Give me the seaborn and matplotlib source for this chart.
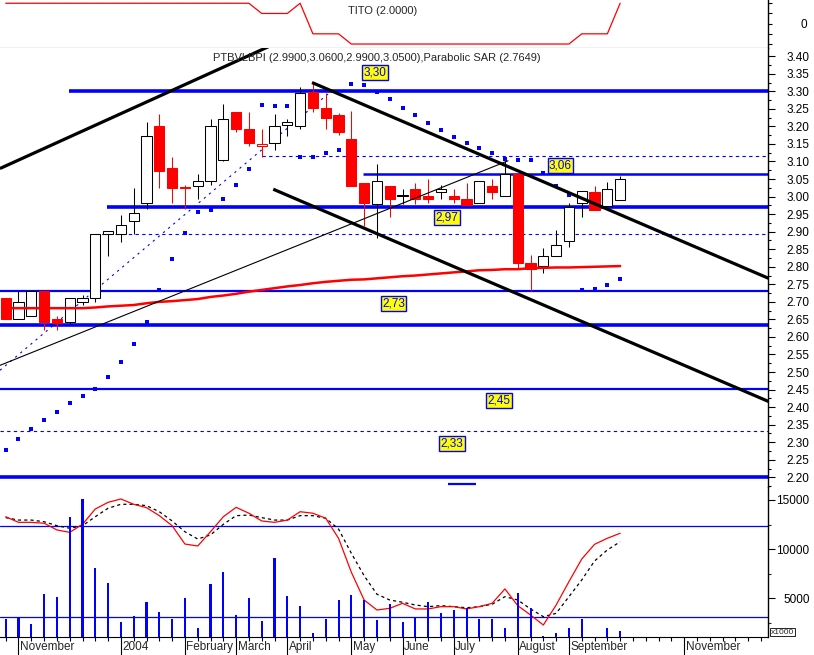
import numpy as np
import pandas as pd
import matplotlib
matplotlib.use('Agg')
import matplotlib.pyplot as plt
import matplotlib.transforms as mtransforms
import seaborn as sns

sns.set_style('white')
plt.rcParams['font.family'] = ['Liberation Sans', 'DejaVu Sans']

BLUE = '#0000ff'
RED = '#ff0000'

# ---------------- data (weekly bars, index 0 = late Oct 2003) ----------------
opens = [2.71, 2.65, 2.66, 2.73, 2.65, 2.643, 2.700, 2.712, 2.893, 2.892,
         2.930, 2.981, 3.200, 3.081, 3.026, 3.030, 3.043, 3.103, 3.240, 3.192,
         3.143, 3.152, 3.203, 3.201, 3.298, 3.252, 3.233, 3.163, 3.040, 2.980,
         3.029, 3.003, 3.023, 3.001, 3.014, 3.001, 2.992, 2.981, 3.029, 3.002,
         3.064, 2.810, 2.802, 2.831, 2.872, 2.981, 3.013, 2.973, 2.990]
highs = [2.71, 2.73, 2.73, 2.73, 2.66, 2.712, 2.72, 2.893, 2.903, 2.948,
         3.024, 3.213, 3.235, 3.112, 3.032, 3.064, 3.222, 3.263, 3.240, 3.242,
         3.192, 3.234, 3.222, 3.311, 3.325, 3.296, 3.239, 3.243, 3.040, 3.093,
         3.029, 3.023, 3.040, 3.051, 3.033, 3.023, 3.040, 3.044, 3.051, 3.102,
         3.064, 2.833, 2.853, 2.904, 2.981, 3.015, 3.030, 3.042, 3.060]
lows = [2.65, 2.65, 2.66, 2.62, 2.62, 2.636, 2.69, 2.700, 2.831, 2.871,
        2.893, 2.966, 3.025, 2.982, 2.966, 2.994, 3.032, 3.100, 3.184, 3.144,
        3.114, 3.133, 3.173, 3.192, 3.241, 3.192, 3.175, 3.030, 2.916, 2.883,
        2.943, 2.980, 2.980, 2.983, 2.992, 2.983, 2.976, 2.981, 2.992, 3.002,
        2.793, 2.731, 2.783, 2.831, 2.855, 2.943, 2.962, 2.973, 2.990]
closes = [2.65, 2.70, 2.73, 2.643, 2.641, 2.710, 2.711, 2.893, 2.903, 2.920,
          2.952, 3.174, 3.073, 3.025, 3.024, 3.043, 3.202, 3.222, 3.194, 3.153,
          3.151, 3.201, 3.213, 3.294, 3.253, 3.223, 3.184, 3.030, 2.981, 3.043,
          2.992, 3.003, 2.992, 2.993, 3.023, 2.993, 2.976, 3.044, 3.014, 3.064,
          2.810, 2.793, 2.831, 2.861, 2.969, 3.015, 2.962, 3.023, 3.050]

sar = [2.279, 2.310, 2.337, 2.364, 2.387, 2.413, 2.433, 2.453, 2.487, 2.530,
       2.581, 2.644, 2.734, 2.823, 2.897, 2.957, 2.963, 2.992, 3.032, 3.080,
       3.262, 3.259, 3.257, 3.114, 3.114, 3.125, 3.133, 3.322, 3.317, 3.298,
       3.277, 3.251, 3.232, 3.211, 3.189, 3.171, 3.154, 3.138, 3.123, 3.108,
       3.103, 3.103, 3.068, 3.030, 3.004, 2.733, 2.738, 2.747, 2.765]

ma40 = [2.682, 2.682, 2.682, 2.682, 2.682, 2.682, 2.682, 2.684, 2.687, 2.689,
        2.691, 2.696, 2.700, 2.702, 2.705, 2.708, 2.714, 2.718, 2.723, 2.729,
        2.734, 2.739, 2.744, 2.748, 2.753, 2.757, 2.760, 2.763, 2.764, 2.767,
        2.770, 2.773, 2.775, 2.778, 2.781, 2.784, 2.787, 2.790, 2.791, 2.793,
        2.793, 2.796, 2.797, 2.798, 2.798, 2.799, 2.800, 2.801, 2.802]

tito = [2] * 20 + [1, 1, 1, 2, -1, -1, -1] + [-2] * 18 + [-1, -1, -1, 2]

volume = [2896, 3030, 2355, 5437, 5100, 13232, 15091, 8079, 6555, 2558,
          3201, 4593, 3577, 2863, 5000, 1982, 6453, 7642, 3303, 5000,
          2659, 9096, 5203, 4217, 1443, 2896, 4797, 5335, 4827, 2795,
          4420, 2625, 3069, 4624, 3506, 3811, 3984, 2866, 2866, 1951,
          5539, 3984, 1169, 1443, 1951, 2896, 900, 1951, 1677]

osc_k = [86.2, 82.5, 82.5, 81.9, 77.5, 75.9, 81.2, 91.3, 95.7, 97.9,
         94.4, 92.2, 86.9, 80.3, 68.2, 66.9, 76.3, 86.2, 92.4, 88.5,
         83.4, 82.5, 84.0, 89.5, 88.5, 85.2, 72.0, 49.6, 31.3, 24.7,
         25.8, 29.1, 25.4, 25.4, 26.9, 26.9, 25.4, 26.9, 29.1, 38.6,
         27.6, 21.4, 14.8, 28.0, 43.4, 58.3, 68.0, 72.0, 75.3]
osc_d = [85.6, 84.0, 84.0, 82.9, 80.3, 78.6, 80.3, 86.2, 91.8, 94.4,
         94.4, 93.5, 89.5, 83.4, 76.3, 71.5, 74.2, 81.2, 86.9, 87.3,
         85.6, 84.0, 84.0, 86.9, 86.9, 85.2, 78.1, 62.1, 47.3, 35.1,
         31.3, 29.8, 28.0, 26.9, 27.6, 26.9, 26.2, 26.9, 28.5, 33.5,
         31.3, 25.4, 20.3, 22.5, 33.5, 44.5, 57.0, 64.3, 69.7]
osc_levels = [80, 20]

# support / resistance levels (price, first week)
level_prices = [3.30, 2.97, 2.73, 2.633, 2.451, 2.20, 3.064, 2.18]
level_starts = [4.95, 7.89, -0.45, -0.45, -0.45, -0.45, 27.9, 34.55]
level_ends = [None, None, None, None, None, None, None, 36.74]
level_lw = [2.6, 2.6, 1.6, 2.6, 1.6, 2.6, 1.8, 1.6]
dashed_prices = [3.115, 2.893, 2.331]
dashed_starts = [20.0, 7.0, -0.45]

# trend lines: (week0, price0, week1, price1)
thick_lines = [(-0.45, 3.080, 21.0, 3.435),
               (23.93, 3.325, 59.6, 2.767),
               (20.9, 3.021, 59.6, 2.416)]
thin_line = (-0.45, 2.519, 39.24, 3.102)
blue_diag = (-0.45, 2.505, 25.33, 3.297)

# value boxes
box_labels = ['3,30', '3,06', '2,97', '2,73', '2,45', '2,33']
box_weeks = [28.85, 43.34, 34.5, 30.3, 38.54, 34.87]
box_prices = [3.353, 3.089, 2.940, 2.696, 2.419, 2.297]

month_names = ['November', '2004', 'February', 'March', 'April', 'May',
               'June', 'July', 'August', 'September', 'November']
month_weeks = [1, 9, 14, 18, 22, 27, 31, 35, 40, 44, 53]

weeks = np.arange(len(closes))
df = pd.DataFrame({'week': weeks, 'open': opens, 'high': highs, 'low': lows,
                   'close': closes, 'sar': sar, 'ma': ma40, 'tito': tito,
                   'volume': volume, 'k': osc_k, 'd': osc_d})

# ---------------- layout ----------------
W, H = 814, 655
fig = plt.figure(figsize=(W / 100, H / 100), dpi=100)
fig.patch.set_facecolor('white')


def frame(x0, y0, x1, y1):
    return [x0 / W, 1 - y1 / H, (x1 - x0) / W, (y1 - y0) / H]


ax_top = fig.add_axes(frame(0, 0, 768, 48))
ax = fig.add_axes(frame(0, 48, 768, 487))
ax_vol = fig.add_axes(frame(0, 487, 768, 637))
XMIN, XMAX = -0.445, 59.55

# oscillator overlay shares the volume panel (0-100 scale)
ax_osc = ax_vol.twinx()
ax_vol.set_zorder(ax_osc.get_zorder() + 1)
ax_vol.patch.set_visible(False)

for a in (ax_top, ax, ax_vol):
    a.set_xlim(XMIN, XMAX)
    for s in ('left', 'top', 'bottom'):
        a.spines[s].set_visible(False)
    a.spines['right'].set_visible(True)
    a.spines['right'].set_color('black')
    a.spines['right'].set_linewidth(1.0)
    a.yaxis.tick_right()
    a.yaxis.set_label_position('right')
    a.tick_params(axis='x', bottom=False, labelbottom=False)
    a.grid(False)

# ---------------- top panel: TITO ----------------
sns.lineplot(data=df, x='week', y='tito', ax=ax_top, color=RED, lw=0.9)
ax_top.set_ylim(-2.39, 2.32)
ax_top.spines['bottom'].set_visible(True)
ax_top.spines['bottom'].set_color('black')
ax_top.set_yticks([-2, -1, 0, 1, 2])
ax_top.set_yticklabels(['', '', '0', '', ''])
ax_top.tick_params(axis='y', length=3, width=0.8, pad=25, labelsize=8.5,
                   colors='black')
plt.setp(ax_top.get_yticklabels(), ha='right')
ax_top.set_xlabel('')
ax_top.set_ylabel('')
ax_top.text(0.453, 0.77, 'TITO (2.0000)', transform=ax_top.transAxes,
            fontsize=8, ha='left', va='center')

# ---------------- main panel ----------------
ax.set_ylim(2.1724, 3.4234)
lw_px = 0.75
for _, r in df.iterrows():
    i = r['week']
    prev = closes[int(i) - 1] if i > 0 else r['close']
    filled = r['close'] < r['open']
    col = RED if (filled or r['close'] < prev) else 'black'
    ax.vlines(i, r['low'], r['high'], color=col, lw=lw_px, zorder=3)
    lo = min(r['open'], r['close'])
    hgt = max(abs(r['close'] - r['open']), 0.002)
    ax.bar(i, hgt, bottom=lo, width=0.8, facecolor=col if filled else 'white',
           edgecolor=col, linewidth=lw_px, zorder=4)

sns.lineplot(data=df, x='week', y='ma', ax=ax, color=RED, lw=1.8, zorder=5)
sns.scatterplot(data=df, x='week', y='sar', ax=ax, color=BLUE, marker='s',
                s=7, linewidth=0, zorder=6)

for p, st, en, lw in zip(level_prices, level_starts, level_ends, level_lw):
    ax.hlines(p, st, XMAX if en is None else en, color=BLUE, lw=lw, zorder=2)
for p, st in zip(dashed_prices, dashed_starts):
    ax.hlines(p, st, XMAX, color=BLUE, lw=0.8, linestyles=(0, (3, 3)), zorder=2)

for x0, y0, x1, y1 in thick_lines:
    ax.plot([x0, x1], [y0, y1], color='black', lw=2.3, zorder=7,
            solid_capstyle='butt')
ax.plot(thin_line[::2], thin_line[1::2], color='black', lw=0.8, zorder=7)
ax.plot(blue_diag[::2], blue_diag[1::2], color=BLUE, lw=0.8, ls=(0, (2, 4)),
        zorder=2)

for t, wk, pr in zip(box_labels, box_weeks, box_prices):
    ax.text(wk, pr, t, color=BLUE, fontsize=8.5, ha='center', va='center',
            zorder=9, bbox=dict(boxstyle='square,pad=0.12', fc='yellow',
                                ec=BLUE, lw=1.0))

ax.text(0.2773, 0.977, 'PTBVLBPI (2.9900,3.0600,2.9900,3.0500),Parabolic SAR (2.7649)',
        transform=ax.transAxes, fontsize=8, ha='left', va='center', zorder=9)

yt = np.round(np.arange(2.20, 3.401, 0.05), 2)
ax.set_yticks(yt)
ax.set_yticklabels([f'{v:.2f}' for v in yt])
ax.set_yticks(np.round(np.arange(2.175, 3.42, 0.05), 3), minor=True)
ax.tick_params(axis='y', which='major', length=5, width=0.8, pad=25,
               labelsize=8.5, colors='black')
ax.tick_params(axis='y', which='minor', length=2.5, width=0.8, colors='black')
plt.setp(ax.get_yticklabels(), ha='right')
ax.set_xlabel('')
ax.set_ylabel('')

# ---------------- bottom panel: volume + oscillator ----------------
ax_vol.bar(df['week'], df['volume'], width=0.16, color=BLUE, linewidth=0,
           zorder=3, antialiased=False)
ax_vol.set_ylim(1067, 16311)
ax_vol.spines['bottom'].set_visible(True)
ax_vol.spines['bottom'].set_color('black')
ax_vol.set_yticks([5000, 10000, 15000])
ax_vol.set_yticks(np.arange(2500, 16300, 2500), minor=True)
ax_vol.tick_params(axis='y', which='major', length=5, width=0.8, pad=25,
                   labelsize=8.5, colors='black', left=False, labelleft=False,
                   right=True, labelright=True)
ax_vol.tick_params(axis='y', which='minor', length=2.5, width=0.8,
                   left=False, right=True)
plt.setp(ax_vol.get_yticklabels(), ha='right')

ax_vol.set_xticks(np.arange(0, 60), minor=True)
ax_vol.set_xticks(month_weeks)
ax_vol.tick_params(axis='x', which='minor', bottom=True, length=3, width=0.8,
                   direction='out', color='black')
ax_vol.tick_params(axis='x', which='major', bottom=True, length=13, width=0.8,
                   direction='out', color='black', labelbottom=False)
trans = mtransforms.blended_transform_factory(ax_vol.transData, ax_vol.transAxes)
for name, wk in zip(month_names, month_weeks):
    ax_vol.text(wk + 0.12, -0.068, name, transform=trans, fontsize=8.5,
                ha='left', va='center')

ax_osc.set_ylim(6.9, 105.8)
ax_osc.set_xlim(XMIN, XMAX)
for s in ax_osc.spines.values():
    s.set_visible(False)
ax_osc.set_yticks([])
ax_osc.tick_params(axis='both', left=False, right=False, labelleft=False,
                   labelright=False)
for lv in osc_levels:
    ax_osc.axhline(lv, color=BLUE, lw=0.9, zorder=2)
sns.lineplot(data=df, x='week', y='d', ax=ax_osc, color='black', lw=0.9,
             ls=(0, (2.5, 2.5)))
sns.lineplot(data=df, x='week', y='k', ax=ax_osc, color=RED, lw=0.9)
ax_osc.set_xlabel('')
ax_osc.set_ylabel('')
ax_vol.set_xlabel('')
ax_vol.set_ylabel('')

fig.text(771 / W, 1 - 632 / H, 'x1000', fontsize=6, ha='left', va='center',
         bbox=dict(boxstyle='square,pad=0.1', fc='white', ec='black', lw=0.6))

fig.savefig('out.png', dpi=100, facecolor='white')
